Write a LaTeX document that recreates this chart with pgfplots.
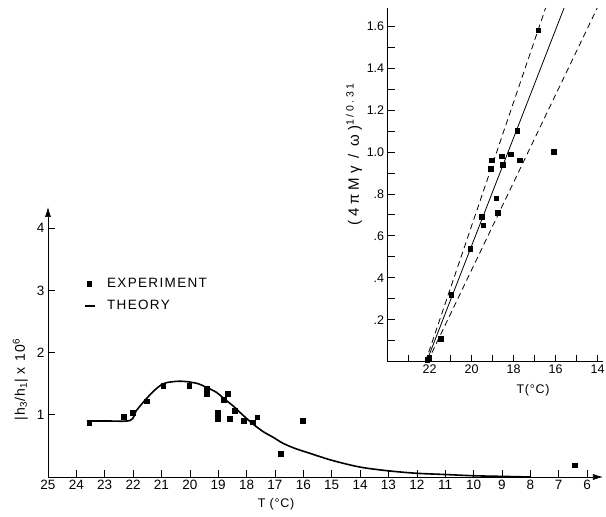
\documentclass[border=0pt]{standalone}
\usepackage{pgfplots}
\pgfplotsset{compat=1.18}
\usepackage{fontspec}
\setmainfont{Liberation Sans}
\usetikzlibrary{arrows.meta}

\pgfplotsset{
  markleg/.style={legend image code/.code={\draw[##1] plot coordinates {(4pt,0pt)};}},
  lineleg/.style={legend image code/.code={\draw[##1] (0pt,0pt) -- (10pt,0pt);}},
}

\begin{document}
\begin{tikzpicture}
% main plot
\begin{axis}[
    at={(0pt,0pt)}, anchor=south west,
    scale only axis,
    width=555pt, height=270pt,
    x dir=reverse,
    xmin=5.44, xmax=25,
    ymin=0, ymax=4.34,
    axis x line=bottom, axis y line=left,
    x axis line style={{Latex[length=10pt,width=6pt]}-},
    y axis line style={-{Latex[length=10pt,width=6pt]}},
    axis line style={line width=0.7pt},
    xtick={6,7,...,25},
    ytick={1,2,3,4},
    tick align=inside,
    major tick length=7pt,
    tick style={black, line width=0.7pt},
    ticklabel style={font=\fontsize{13.5}{15}\selectfont},
    /pgf/number format/assume math mode=true,
    clip=false,
    legend style={at={(axis description cs:0.06,0.75)}, anchor=north west,
        draw=none, fill=none, row sep=7pt,
        /tikz/every odd column/.append style={column sep=9pt},
        font=\fontsize{13.5}{15}\selectfont\addfontfeature{LetterSpace=10}},
    legend cell align=left,
]
  \addplot[only marks, mark=square*, mark size=2.4pt, black, markleg]
    coordinates {(23.55,0.87)(22.32,0.97)(22.02,1.03)(21.53,1.22)(20.94,1.47)
      (20.02,1.47)(19.41,1.42)(19.41,1.34)(19.01,1.03)(19.01,0.94)(18.67,1.34)
      (18.80,1.24)(18.42,1.06)(18.59,0.94)(18.10,0.91)(17.79,0.88)(17.63,0.96)
      (16.81,0.37)(16.03,0.90)(6.44,0.19)};
  \addlegendentry{EXPERIMENT}

  \addplot[black, line width=1.6pt, smooth, tension=0.5, no marks, lineleg]
    coordinates {(23.63,0.90)(22.9,0.90)(22.1,0.91)(21.88,1.07)(21.53,1.26)
      (21.23,1.40)(20.94,1.50)(20.64,1.53)(20.35,1.54)(20.06,1.53)(19.71,1.50)
      (19.41,1.44)(19.06,1.36)(18.80,1.26)(18.47,1.14)(18.12,0.99)(17.77,0.85)
      (17.42,0.73)(17.07,0.64)(16.71,0.54)(16.24,0.45)(15.83,0.39)(15.01,0.27)
      (14.01,0.16)(13.02,0.10)(12.02,0.06)(11.0,0.04)(10.0,0.02)(9.0,0.01)(8.0,0.0)};
  \addlegendentry{THEORY}

  \node[rotate=90, font=\fontsize{14}{16}\selectfont\addfontfeature{LetterSpace=10}]
    at (axis description cs:-0.05,0.36)
    {|h\textsubscript{3}/h\textsubscript{1}|\ x\ 10\textsuperscript{6}};
  \node[font=\fontsize{12.5}{14}\selectfont\addfontfeature{LetterSpace=6}]
    at (axis description cs:0.411,-0.10) {T (°C)};
\end{axis}

% inset
\begin{axis}[
    at={(339.7pt,115.3pt)}, anchor=south west,
    scale only axis,
    width=215pt, height=353.7pt,
    x dir=reverse,
    xmin=13.76, xmax=24,
    ymin=0, ymax=1.686,
    axis x line*=bottom, axis y line*=left,
    axis line style={-, line width=0.7pt},
    xtick={14,16,...,22},
    minor xtick={15,17,...,23},
    ytick={0.2,0.4,...,1.6},
    yticklabels={.2,.4,.6,.8,1.0,1.2,1.4,1.6},
    minor ytick={0.1,0.3,...,1.5},
    tick align=inside,
    major tick length=7pt, minor tick length=7pt,
    tick style={black, line width=0.7pt},
    ticklabel style={font=\fontsize{12.5}{14}\selectfont},
    /pgf/number format/assume math mode=true,
    clip=false,
]
  \addplot[only marks, mark=square*, mark size=2.3pt, black]
    coordinates {(16.83,1.58)(17.83,1.10)(18.14,0.99)(18.56,0.98)(19.05,0.96)
      (19.08,0.92)(18.51,0.94)(17.70,0.96)(16.08,1.00)(18.83,0.78)(18.75,0.71)
      (19.51,0.69)(19.46,0.65)(20.08,0.54)(20.97,0.32)(21.48,0.11)(22.11,0.01)
      (22.02,0.02)};
  \addplot[black, line width=0.8pt, no marks] coordinates {(22.15,0)(15.60,1.686)};
  \addplot[black, line width=0.8pt, no marks, dash pattern=on 6pt off 4pt]
    coordinates {(22.2,0)(16.48,1.686)};
  \addplot[black, line width=0.8pt, no marks, dash pattern=on 6pt off 4pt]
    coordinates {(22.1,0)(14.02,1.686)};

  \node[rotate=90, font=\fontsize{15}{17}\selectfont\addfontfeature{LetterSpace=25}]
    at (axis description cs:-0.157,0.587)
    {(4πMγ / ω)\textsuperscript{1/0.31}};
  \node[font=\fontsize{12.5}{14}\selectfont\addfontfeature{LetterSpace=6}]
    at (axis description cs:0.676,-0.08) {T(°C)};
\end{axis}

\pgfresetboundingbox
\path (-48pt,-40pt) rectangle (558pt,477pt);
\end{tikzpicture}
\end{document}
